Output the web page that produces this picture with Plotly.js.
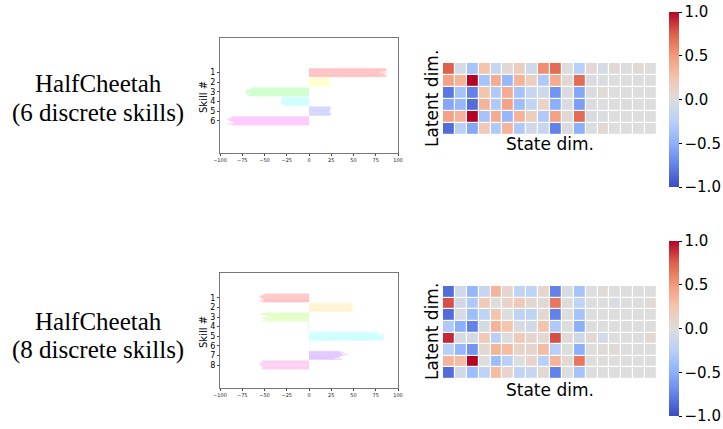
<!DOCTYPE html>
<html>
<head>
<meta charset="utf-8">
<script src="https://cdn.plot.ly/plotly-3.0.1.min.js"></script>
<style>html,body{margin:0;padding:0;background:#fff;}#chart{width:723px;height:429px;}</style>
</head>
<body>
<div id="chart"></div>
<script>
// ---------- data ----------
const skillLabels6 = ["1", "2", "3", "4", "5", "6"];
const skillLabels8 = ["1", "2", "3", "4", "5", "6", "7", "8"];
const xTicks = [-100, -75, -50, -25, 0, 25, 50, 75, 100];

// final x-displacement of each rollout, per skill (6-skill model)
const runs6 = [
  [86, 87, 88, 85, 80, 86, 87, 84, 88, 86],
  [23, 24, 25, 23, 24, 22, 24, 23],
  [-65, -66, -70, -72, -71, -70, -69, -68],
  [-30, -31, -32, -29, -31, -32, -30, -28],
  [24, 25, 24, 23, 24, 25, 24],
  [-88, -87, -90, -92, -89, -86, -85, -92, -87]
];
// per skill (8-skill model)
const runs8 = [
  [-50, -52, -55, -56, -54, -53, -51, -55, -52],
  [48, 49, 50, 47, 51, 48, 49],
  [-53, -56, -50, -47, -41, -54, -52, -49, -53],
  [-1, -2, -1.5, -1, -2],
  [78, 76, 84, 85, 83, 85, 84, 82],
  [0.5, 1, 0.8, 0.6],
  [35, 39, 36, 44, 38, 34, 35, 29, 37],
  [-53, -52, -55, -56, -54, -53, -52, -53]
];
const colors6 = ["#ff0000", "#ffff00", "#00ff00", "#00ffff", "#0000ff", "#ff00ff"];
const colors8 = ["#ff0000", "#ffbf00", "#80ff00", "#00ff40", "#00ffff", "#0040ff", "#7f00ff", "#ff00bf"];

// latent-state correlation matrices
const corr6 = [
  [0.75, -0.05, -0.35, 0.25, -0.15, 0.05, 0.15, -0.1, 0.55, 0.7, 0.0, -0.25, 0.05, -0.05, 0.03, 0.0, 0.03, 0.0],
  [0.45, 0.35, 1.0, -0.35, 0.4, -0.45, 0.35, 0.15, -0.3, 0.4, 0.05, 0.7, -0.03, -0.02, 0.0, 0.0, 0.0, 0.0],
  [-0.8, -0.35, -0.75, 0.25, -0.3, 0.4, -0.35, -0.15, -0.1, -0.65, -0.03, -0.55, -0.02, 0.03, 0.0, 0.0, 0.0, 0.0],
  [-0.55, -0.45, -0.85, 0.35, -0.3, 0.45, -0.4, -0.2, 0.1, -0.5, -0.03, -0.6, -0.02, 0.0, 0.0, 0.02, 0.0, 0.0],
  [0.45, 0.35, 1.0, -0.35, 0.4, -0.45, 0.35, 0.15, -0.3, 0.45, 0.05, 0.7, -0.03, -0.02, 0.0, 0.0, 0.0, 0.0],
  [-0.85, -0.25, -0.55, 0.2, -0.3, 0.35, -0.3, -0.1, -0.15, -0.75, -0.03, -0.5, -0.02, 0.05, 0.0, 0.0, 0.0, 0.0]
];
const corr8 = [
  [-0.85, -0.1, -0.45, -0.15, 0.35, 0.08, -0.2, -0.2, 0.08, -0.75, -0.03, -0.35, 0.0, 0.03, 0.0, 0.0, 0.0, 0.0],
  [0.8, -0.1, -0.3, 0.2, 0.0, 0.1, 0.2, 0.05, 0.05, 0.65, 0.0, -0.2, 0.0, 0.0, -0.03, 0.0, 0.0, 0.03],
  [-0.85, -0.05, -0.4, -0.2, 0.25, 0.0, -0.2, -0.2, 0.05, -0.75, 0.0, -0.35, 0.0, 0.0, 0.0, 0.0, 0.0, 0.0],
  [-0.3, -0.5, -0.75, -0.05, 0.35, 0.25, -0.05, -0.08, 0.25, -0.3, 0.0, -0.5, 0.0, 0.0, 0.0, 0.0, 0.0, 0.0],
  [0.9, -0.05, -0.08, 0.2, -0.25, 0.0, 0.2, 0.08, 0.05, 0.8, 0.03, -0.1, 0.05, -0.08, 0.0, 0.0, 0.0, 0.05],
  [-0.25, -0.45, -0.65, 0.05, 0.35, 0.3, 0.1, 0.1, 0.3, -0.25, 0.0, -0.5, 0.0, 0.03, 0.03, 0.0, 0.0, 0.0],
  [0.35, 0.3, 1.0, 0.0, -0.4, -0.25, 0.0, 0.1, -0.25, 0.35, 0.05, 0.65, 0.0, 0.0, 0.0, 0.0, 0.0, 0.0],
  [-0.85, -0.1, -0.4, -0.2, 0.3, 0.08, -0.2, -0.15, 0.05, -0.75, 0.0, -0.35, 0.0, 0.0, 0.0, 0.0, 0.0, 0.0]
];
const cbTicks = [-1, -0.5, 0, 0.5, 1];

// ---------- helpers ----------
const W = 723, H = 429;
const dx = (a, b) => [a / W, b / W];
const dy = (top, bot) => [1 - bot / H, 1 - top / H];

const coolwarm = [
  [0.0, "rgb(59,76,192)"], [0.125, "rgb(98,130,234)"], [0.25, "rgb(141,176,254)"],
  [0.375, "rgb(184,208,249)"], [0.5, "rgb(221,221,221)"], [0.625, "rgb(245,196,173)"],
  [0.75, "rgb(244,154,123)"], [0.875, "rgb(222,96,77)"], [1.0, "rgb(180,4,38)"]
];

function skillTraces(runs, colors, xa, ya) {
  return runs.map((vals, i) => {
    const n = vals.length;
    const ys = vals.map((v, k) => (i + 1) + (n > 1 ? (k / (n - 1) - 0.5) * 0.82 : 0));
    return {
      type: "bar", orientation: "h", x: vals, y: ys, width: 0.16,
      marker: {color: colors[i], opacity: 0.14, line: {width: 0}},
      xaxis: xa, yaxis: ya, showlegend: false, hoverinfo: "skip"
    };
  });
}

function heat(z, xa, ya, cbY) {
  return {
    type: "heatmap", z: z, zmin: -1, zmax: 1, colorscale: coolwarm,
    xgap: 1.2, ygap: 1.2, xaxis: xa, yaxis: ya,
    colorbar: {
      x: 669 / W, xanchor: "left", xref: "paper", xpad: 0, ypad: 0,
      y: cbY, yanchor: "middle", len: 175 / H, lenmode: "fraction",
      thickness: 10, outlinewidth: 0, ticks: "outside", ticklen: 3, tickwidth: 1,
      tickcolor: "#000", tickvals: cbTicks, tickformat: ".1f",
      tickfont: {family: "DejaVu Sans", size: 15, color: "#000"}
    }
  };
}

const data = [
  ...skillTraces(runs6, colors6, "x", "y"),
  ...skillTraces(runs8, colors8, "x2", "y2"),
  heat(corr6, "x3", "y3", 1 - 99.5 / H),
  heat(corr8, "x4", "y4", 1 - 328.5 / H)
];

const barX = (dom, anc) => ({
  domain: dom, anchor: anc, range: [-100, 100], tickvals: xTicks, ticks: "outside", ticklen: 2,
  tickfont: {family: "DejaVu Sans", size: 5, color: "#222"}, showgrid: false, zeroline: false,
  showline: true, mirror: true, linecolor: "#777", linewidth: 1, fixedrange: true
});
const barY = (dom, anc, rng, labels) => ({
  domain: dom, anchor: anc, range: rng, tickvals: labels.map((_, i) => i + 1), ticktext: labels,
  ticks: "outside", ticklen: 2, tickfont: {family: "DejaVu Sans", size: 8, color: "#000"},
  showgrid: false, zeroline: false, showline: true, mirror: true, linecolor: "#777", linewidth: 1
});
const hmX = (dom, anc) => ({domain: dom, anchor: anc, showticklabels: false, ticks: "", showgrid: false, zeroline: false, range: [-0.5, 17.5]});
const hmY = (dom, anc, n) => ({domain: dom, anchor: anc, showticklabels: false, ticks: "", showgrid: false, zeroline: false, range: [n - 0.5, -0.5]});

const serif = {family: "Liberation Serif", size: 25, color: "#000"};
const sans = {family: "DejaVu Sans", size: 17, color: "#000"};
const ann = (x, y, text, font, extra) => Object.assign({
  x: x / W, y: 1 - y / H, xref: "paper", yref: "paper", text: text, showarrow: false,
  font: font, xanchor: "center", yanchor: "middle"
}, extra || {});

const layout = {
  width: W, height: H, margin: {l: 0, r: 0, t: 0, b: 0},
  paper_bgcolor: "#fff", plot_bgcolor: "#fff", barmode: "overlay", showlegend: false,
  xaxis: barX(dx(220, 398), "y"), yaxis: barY(dy(38, 153), "x", [9.35, -2.6], skillLabels6),
  xaxis2: barX(dx(220, 398), "y2"), yaxis2: barY(dy(273, 388), "x2", [10.4, -1.6], skillLabels8),
  xaxis3: hmX(dx(443, 657), "y3"), yaxis3: hmY(dy(63, 135), "x3", 6),
  xaxis4: hmX(dx(443, 657), "y4"), yaxis4: hmY(dy(286, 379), "x4", 8),
  annotations: [
    ann(98, 83, "HalfCheetah", serif), ann(98, 113, "(6 discrete skills)", serif),
    ann(98, 321, "HalfCheetah", serif), ann(98, 350, "(8 discrete skills)", serif),
    ann(203, 97, "Skill #", {family: "DejaVu Sans", size: 10, color: "#000"}, {textangle: -90}),
    ann(203, 332, "Skill #", {family: "DejaVu Sans", size: 10, color: "#000"}, {textangle: -90}),
    ann(432, 99, "Latent dim.", sans, {textangle: -90}),
    ann(432, 332, "Latent dim.", sans, {textangle: -90}),
    ann(550, 144, "State dim.", sans),
    ann(550, 390, "State dim.", sans)
  ]
};

Plotly.newPlot("chart", data, layout, {staticPlot: true});
</script>
</body>
</html>
